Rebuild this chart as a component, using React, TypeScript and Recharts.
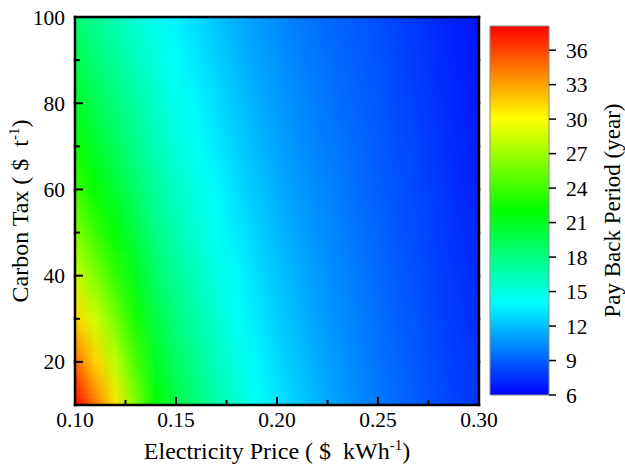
import React from "react";
import { ComposedChart, XAxis, YAxis, ReferenceArea, Label } from "recharts";

// electricity price ($/kWh), one column per value
const prices = [0.1, 0.11, 0.12, 0.13, 0.14, 0.15, 0.16, 0.17, 0.18, 0.19, 0.2, 0.21, 0.22, 0.23, 0.24, 0.25, 0.26, 0.27, 0.28, 0.29, 0.3];
// carbon tax ($/t), one row per value
const carbonTaxes = [10, 20, 30, 40, 50, 60, 70, 80, 90, 100];

// pay back period (year)
const payback10 = [38.0, 34.3, 30.8, 26.0, 22.0, 20.0, 18.3, 16.8, 15.5, 14.3, 13.3, 12.5, 11.7, 11.0, 10.4, 9.8, 9.3, 8.9, 8.4, 8.0, 7.7];
const payback20 = [34.8, 31.5, 28.0, 24.3, 20.9, 19.0, 17.5, 16.1, 14.9, 13.8, 12.9, 12.1, 11.4, 10.8, 10.2, 9.6, 9.2, 8.7, 8.3, 7.9, 7.6];
const payback30 = [31.3, 28.6, 25.7, 22.7, 19.8, 18.1, 16.8, 15.5, 14.4, 13.4, 12.5, 11.8, 11.1, 10.5, 10.0, 9.5, 9.0, 8.6, 8.1, 7.7, 7.4];
const payback40 = [28.5, 26.0, 23.6, 21.1, 18.9, 17.3, 16.1, 14.9, 13.9, 13.0, 12.2, 11.5, 10.9, 10.3, 9.8, 9.3, 8.9, 8.5, 8.0, 7.6, 7.3];
const payback50 = [26.1, 23.9, 21.9, 19.9, 17.9, 16.5, 15.4, 14.4, 13.4, 12.6, 11.8, 11.2, 10.6, 10.1, 9.6, 9.2, 8.7, 8.3, 7.9, 7.5, 7.2];
const payback60 = [24.0, 22.1, 20.4, 18.7, 17.1, 15.9, 14.9, 13.9, 13.0, 12.2, 11.5, 10.9, 10.4, 9.9, 9.4, 9.0, 8.6, 8.2, 7.8, 7.3, 7.0];
const payback70 = [22.3, 20.7, 19.2, 17.7, 16.3, 15.2, 14.3, 13.4, 12.6, 11.8, 11.2, 10.6, 10.1, 9.7, 9.3, 8.9, 8.5, 8.1, 7.6, 7.2, 6.9];
const payback80 = [20.9, 19.5, 18.2, 16.9, 15.7, 14.6, 13.8, 13.0, 12.2, 11.5, 10.9, 10.4, 9.9, 9.5, 9.1, 8.8, 8.3, 7.9, 7.5, 7.1, 6.8];
const payback90 = [19.6, 18.4, 17.2, 16.1, 15.1, 14.1, 13.3, 12.6, 11.8, 11.2, 10.7, 10.1, 9.7, 9.3, 9.0, 8.6, 8.2, 7.8, 7.4, 7.0, 6.7];
const payback100 = [18.5, 17.4, 16.4, 15.4, 14.5, 13.6, 12.9, 12.2, 11.5, 10.9, 10.4, 9.9, 9.5, 9.1, 8.8, 8.5, 8.1, 7.7, 7.3, 6.9, 6.6];
const paybackRows = [payback10, payback20, payback30, payback40, payback50, payback60, payback70, payback80, payback90, payback100];

// axis ticks
const xTicks = [0.1, 0.125, 0.15, 0.175, 0.2, 0.225, 0.25, 0.275, 0.3];
const xMajor = [0.1, 0.15, 0.2, 0.25, 0.3];
const yTicks = [20, 30, 40, 50, 60, 70, 80, 90, 100];
const yMajor = [20, 40, 60, 80, 100];

// colour scale
const scaleMin = 6;
const scaleMax = 38.1;
const scaleTicks = [6, 9, 12, 15, 18, 21, 24, 27, 30, 33, 36];
const scaleStops = [6, 14.025, 22.05, 30.075, 38.1];
const scaleRgb = [
  [0, 0, 255],
  [0, 255, 255],
  [0, 255, 0],
  [255, 255, 0],
  [255, 0, 0],
];

const FONT = '"Liberation Serif", "Times New Roman", serif';
const TICK_FONT = 21.5;
const TITLE_FONT = 24;
const BLEND_STEPS = 12;
const FRAME_W = 2.5;

const hex = (n: number) => Math.round(Math.max(0, Math.min(255, n))).toString(16).padStart(2, "0");

function colorFor(v: number) {
  let k = 0;
  while (k < scaleStops.length - 2 && v > scaleStops[k + 1]) k++;
  const t = Math.max(0, Math.min(1, (v - scaleStops[k]) / (scaleStops[k + 1] - scaleStops[k])));
  const a = scaleRgb[k];
  const b = scaleRgb[k + 1];
  return "#" + hex(a[0] + (b[0] - a[0]) * t) + hex(a[1] + (b[1] - a[1]) * t) + hex(a[2] + (b[2] - a[2]) * t);
}

const pMin = prices[0];
const pMax = prices[prices.length - 1];
const cMin = carbonTaxes[0];
const cMax = carbonTaxes[carbonTaxes.length - 1];
const lastBand = carbonTaxes.length - 2;

// grid points, so the charts have data behind their axes
const gridData = carbonTaxes.flatMap((c) => prices.map((p) => ({ p, c })));

const XTick = (props: any) => {
  const { x, y, payload } = props;
  const v = payload.value;
  if (!xMajor.some((m) => Math.abs(m - v) < 1e-9)) return <g />;
  return (
    <text x={x} y={y} dy="0.71em" textAnchor="middle" fontFamily={FONT} fontSize={TICK_FONT} fill="#000">
      {v.toFixed(2)}
    </text>
  );
};

const YTick = (props: any) => {
  const { x, y, payload } = props;
  const v = payload.value;
  if (!yMajor.includes(v)) return <g />;
  return (
    <text x={x} y={y} dy="0.35em" textAnchor="end" fontFamily={FONT} fontSize={TICK_FONT} fill="#000">
      {v}
    </text>
  );
};

// one band between two data rows: lower row underneath, upper row laid over it in thin strips of
// rising opacity; the band also carries its own piece of the frame and the inward tick marks
const bandShape = (lower: number) => (props: any) => {
  const { x, y, width, height } = props;
  const c1 = carbonTaxes[lower];
  const c2 = carbonTaxes[lower + 1];
  const h = height / BLEND_STEPS;
  const yAt = (t: number) => y + (height * (c2 - t)) / (c2 - c1);
  const xAt = (t: number) => x + (width * (t - pMin)) / (pMax - pMin);
  const bandYTicks = yTicks.filter((t) => t >= c1 && (t < c2 || (lower === lastBand && t <= c2)));
  return (
    <g>
      <rect x={x} y={y} width={width} height={height} fill={`url(#pbRow${lower})`} shapeRendering="crispEdges" />
      {Array.from({ length: BLEND_STEPS }, (_, k) => (
        <rect
          key={k}
          x={x}
          y={y + height - (k + 1) * h}
          width={width}
          height={h}
          fill={`url(#pbRow${lower + 1})`}
          fillOpacity={(k + 0.5) / BLEND_STEPS}
          shapeRendering="crispEdges"
        />
      ))}
      {bandYTicks.map((t) => (
        <line key={`yt${t}`} x1={x} x2={x + (yMajor.includes(t) ? 8 : 5)} y1={yAt(t)} y2={yAt(t)} stroke="#000" strokeWidth={2} />
      ))}
      {lower === 0 &&
        xTicks.map((t) => (
          <line
            key={`xt${t}`}
            x1={xAt(t)}
            x2={xAt(t)}
            y1={y + height}
            y2={y + height - (xMajor.some((m) => Math.abs(m - t) < 1e-9) ? 8 : 5)}
            stroke="#000"
            strokeWidth={2}
          />
        ))}
      <line x1={x} x2={x} y1={y} y2={y + height} stroke="#000" strokeWidth={FRAME_W} strokeLinecap="square" />
      <line x1={x + width} x2={x + width} y1={y} y2={y + height} stroke="#000" strokeWidth={FRAME_W} strokeLinecap="square" />
      {lower === 0 && <line x1={x} x2={x + width} y1={y + height} y2={y + height} stroke="#000" strokeWidth={FRAME_W} strokeLinecap="square" />}
      {lower === lastBand && <line x1={x} x2={x + width} y1={y} y2={y} stroke="#000" strokeWidth={FRAME_W} strokeLinecap="square" />}
    </g>
  );
};

const xTitle = (props: any) => {
  const { x, y, width, height } = props.viewBox;
  return (
    <text x={x + width / 2} y={y + height + 24} textAnchor="middle" style={{ whiteSpace: "pre" }} fontFamily={FONT} fontSize={TITLE_FONT} fill="#000">
      Electricity Price ( $  kWh
      <tspan dy={-9} fontSize={15}>-1</tspan>
      <tspan dy={9}>)</tspan>
    </text>
  );
};

const yTitle = (props: any) => {
  const { x, y, height } = props.viewBox;
  const cx = x + 13;
  const cy = y + height / 2;
  return (
    <text x={cx} y={cy} transform={`rotate(-90 ${cx} ${cy})`} textAnchor="middle" style={{ whiteSpace: "pre" }} fontFamily={FONT} fontSize={TITLE_FONT} fill="#000">
      Carbon Tax ( $  t
      <tspan dy={-9} fontSize={15}>-1</tspan>
      <tspan dy={9}>)</tspan>
    </text>
  );
};

const scaleTitle = (props: any) => {
  const { x, y, height } = props.viewBox;
  const cx = x + 71;
  const cy = y + height / 2;
  return (
    <text x={cx} y={cy} transform={`rotate(-90 ${cx} ${cy})`} textAnchor="middle" fontFamily={FONT} fontSize={23} fill="#000">
      Pay Back Period (year)
    </text>
  );
};

const layer = (z: number, left = 0) => ({ position: "absolute" as const, left, top: 0, zIndex: z });
const mainMargin = { top: 17, right: 41, bottom: 32, left: 15 };

export default function App() {
  return (
    <div style={{ position: "absolute", left: 0, top: 0, width: 625, height: 467, background: "#fff" }}>
      {/* axis titles and tick labels */}
      <div style={layer(1)}>
        <ComposedChart width={520} height={467} data={gridData} margin={mainMargin}>
          <XAxis
            type="number"
            dataKey="p"
            domain={[pMin, pMax]}
            allowDataOverflow
            ticks={xTicks}
            interval={0}
            tick={XTick}
            tickSize={0}
            tickMargin={7}
            tickLine={false}
            axisLine={false}
            height={30}
          >
            <Label content={xTitle} />
          </XAxis>
          <YAxis
            type="number"
            dataKey="c"
            domain={[cMin, cMax]}
            allowDataOverflow
            ticks={yTicks}
            interval={0}
            tick={YTick}
            tickSize={0}
            tickMargin={10}
            tickLine={false}
            axisLine={false}
            width={60}
          >
            <Label content={yTitle} />
          </YAxis>
        </ComposedChart>
      </div>
      {/* heat map, with frame and inward ticks */}
      <div style={layer(2)}>
        <ComposedChart width={520} height={467} data={gridData} margin={{ top: 17, right: 41, bottom: 62, left: 75 }}>
          <defs>
            {paybackRows.map((row, i) => (
              <linearGradient key={i} id={`pbRow${i}`} x1="0" y1="0" x2="1" y2="0">
                {row.map((v, j) => (
                  <stop key={j} offset={(prices[j] - pMin) / (pMax - pMin)} stopColor={colorFor(v)} />
                ))}
              </linearGradient>
            ))}
          </defs>
          <XAxis type="number" dataKey="p" domain={[pMin, pMax]} allowDataOverflow hide />
          <YAxis type="number" dataKey="c" domain={[cMin, cMax]} allowDataOverflow hide />
          {carbonTaxes.slice(0, -1).map((c, i) => (
            <ReferenceArea key={c} x1={pMin} x2={pMax} y1={c} y2={carbonTaxes[i + 1]} shape={bandShape(i)} />
          ))}
        </ComposedChart>
      </div>
      {/* colour scale */}
      <div style={layer(3, 480)}>
        <ComposedChart width={145} height={467} data={scaleTicks.map((s) => ({ s }))} margin={{ top: 26, right: 0, bottom: 72, left: 10 }}>
          <defs>
            <linearGradient id="scaleGrad" x1="0" y1="1" x2="0" y2="0">
              {scaleStops.map((s, k) => (
                <stop key={k} offset={(s - scaleMin) / (scaleMax - scaleMin)} stopColor={colorFor(s)} />
              ))}
            </linearGradient>
          </defs>
          <XAxis type="category" hide />
          <YAxis
            type="number"
            dataKey="s"
            orientation="right"
            domain={[scaleMin, scaleMax]}
            allowDataOverflow
            ticks={scaleTicks}
            interval={0}
            tickSize={7}
            tickMargin={10}
            tickLine={{ stroke: "#000", strokeWidth: 1.5 }}
            axisLine={false}
            tick={{ fill: "#000", fontSize: TICK_FONT, fontFamily: FONT }}
            width={76}
          >
            <Label content={scaleTitle} />
          </YAxis>
          <ReferenceArea y1={scaleMin} y2={scaleMax} fill="url(#scaleGrad)" fillOpacity={1} stroke="#8a8a8a" strokeWidth={1} />
        </ComposedChart>
      </div>
    </div>
  );
}
